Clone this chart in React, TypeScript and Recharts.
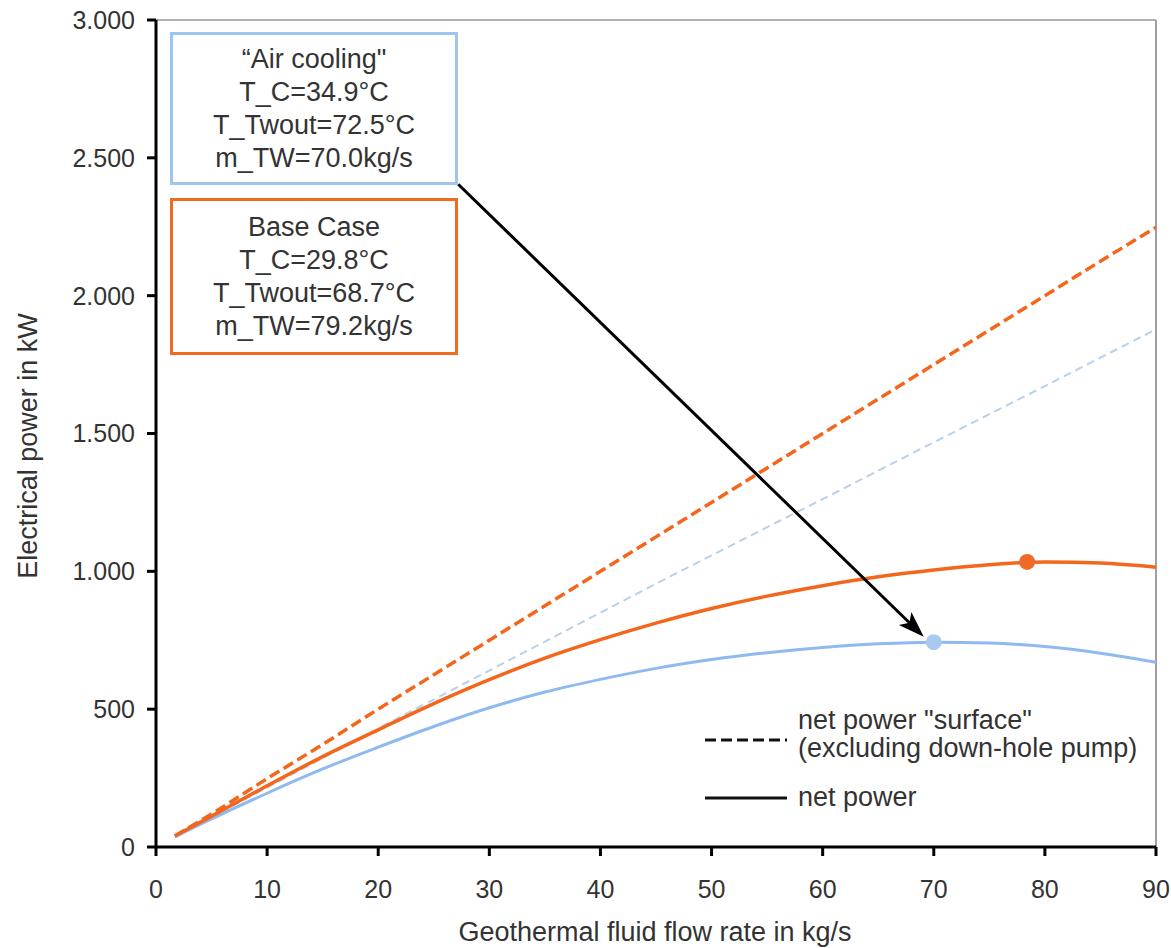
import {
  ComposedChart,
  Line,
  Scatter,
  XAxis,
  YAxis,
  ReferenceLine,
} from "recharts";

const FONT = "'Liberation Sans', Arial, Helvetica, sans-serif";
const ORANGE = "#f3661c";
const BLUE = "#8fbaf0";
const BLUE_FAINT = "#b9d0ea";
const TEXT = "#333333";

// flow rate in kg/s
const flow = [1.7, 5, 10, 15, 20, 25, 30, 35, 40, 45, 50, 55, 60, 65, 70, 75, 80, 85, 90];
// net power "surface" (excluding down-hole pump), kW
const baseSurface = [40, 120, 248, 372, 500, 625, 750, 875, 1000, 1125, 1250, 1375, 1500, 1625, 1750, 1875, 2000, 2125, 2248];
const airSurface = [38, 108, 215, 322, 430, 535, 640, 745, 850, 955, 1058, 1160, 1262, 1365, 1468, 1570, 1672, 1775, 1878];
// net power, kW
const baseNet = [40, 112, 222, 328, 425, 520, 607, 685, 752, 812, 865, 910, 948, 980, 1005, 1024, 1034, 1030, 1015];
const airNet = [37, 102, 195, 283, 362, 437, 505, 562, 608, 648, 680, 705, 724, 737, 743, 740, 727, 703, 670];

// optimum points
const baseOptimum = [{ x: 78.4, y: 1034 }];
const airOptimum = [{ x: 70.0, y: 743 }];

const xTicks = [0, 10, 20, 30, 40, 50, 60, 70, 80, 90];
const yTicks = [0, 500, 1000, 1500, 2000, 2500, 3000];

const airBox = ["\u201CAir cooling\"", "T_C=34.9°C", "T_Twout=72.5°C", "m_TW=70.0kg/s"];
const baseBox = ["Base Case", "T_C=29.8°C", "T_Twout=68.7°C", "m_TW=79.2kg/s"];

// arrow from the air cooling box to its optimum
const arrowSegment = [
  { x: 27.2, y: 2404 },
  { x: 69.1, y: 763 },
];

const toPoints = (ys: number[]) => flow.map((x, i) => ({ x, y: ys[i] }));

function formatKw(v: number) {
  if (v < 1000) return String(v);
  return `${Math.floor(v / 1000)}.${String(v % 1000).padStart(3, "0")}`;
}

function Arrow(props: any) {
  const { x1, y1, x2, y2 } = props;
  const dx = x2 - x1;
  const dy = y2 - y1;
  const len = Math.sqrt(dx * dx + dy * dy);
  const ux = dx / len;
  const uy = dy / len;
  const head = 26;
  const half = 9;
  const bx = x2 - ux * head;
  const by = y2 - uy * head;
  const pts = `${x2},${y2} ${bx - uy * half},${by + ux * half} ${bx + ux * 6},${by + uy * 6} ${bx + uy * half},${by - ux * half}`;
  return (
    <g>
      <line x1={x1} y1={y1} x2={bx + ux * 6} y2={by + uy * 6} stroke="#000" strokeWidth={3} />
      <polygon points={pts} fill="#000" />
    </g>
  );
}

function Dot(color: string) {
  return (p: any) => <circle cx={p.cx} cy={p.cy} r={8} fill={color} />;
}

function InfoBox({ lines, color, top, height }: { lines: string[]; color: string; top: number; height: number }) {
  return (
    <div
      style={{
        position: "absolute",
        left: 170,
        top,
        width: 288,
        height,
        boxSizing: "border-box",
        border: `3px solid ${color}`,
        background: "#fff",
        display: "flex",
        flexDirection: "column",
        justifyContent: "center",
        alignItems: "center",
        fontFamily: FONT,
        fontSize: 27,
        lineHeight: "33px",
        color: TEXT,
      }}
    >
      {lines.map((l) => (
        <div key={l}>{l}</div>
      ))}
    </div>
  );
}

export default function App() {
  return (
    <div style={{ position: "absolute", left: 0, top: 0, width: 1171, height: 948, background: "#fff" }}>
      <ComposedChart width={1171} height={948} margin={{ top: 20, right: 15, bottom: 0, left: 0 }}>
        <XAxis
          type="number"
          dataKey="x"
          domain={[0, 90]}
          ticks={xTicks}
          allowDataOverflow
          height={101}
          axisLine={{ stroke: "#000", strokeWidth: 3 }}
          tickLine={{ stroke: "#000", strokeWidth: 3 }}
          tickSize={9}
          tickMargin={24}
          tick={{ fontSize: 25, fill: TEXT, fontFamily: FONT }}
          label={(p: any) => (
            <text x={655} y={941} textAnchor="middle" fontSize={27} fill={TEXT} fontFamily={FONT}>
              Geothermal fluid flow rate in kg/s
            </text>
          )}
        />
        <YAxis
          type="number"
          dataKey="y"
          domain={[0, 3000]}
          ticks={yTicks}
          width={156}
          tickFormatter={formatKw}
          axisLine={{ stroke: "#000", strokeWidth: 3 }}
          tickLine={{ stroke: "#000", strokeWidth: 3 }}
          tickSize={9}
          tickMargin={12}
          tick={{ fontSize: 25, fill: TEXT, fontFamily: FONT }}
          label={(p: any) => (
            <text
              x={37}
              y={446}
              textAnchor="middle"
              fontSize={27}
              fill={TEXT}
              fontFamily={FONT}
              transform="rotate(-90, 37, 446)"
            >
              Electrical power in kW
            </text>
          )}
        />
        <ReferenceLine y={3000} stroke="#b0b0b0" strokeWidth={2} />
        <ReferenceLine x={90} stroke="#a0a0a0" strokeWidth={2} />

        <Line
          data={toPoints(airSurface)}
          dataKey="y"
          type="monotone"
          stroke={BLUE_FAINT}
          strokeWidth={2}
          strokeDasharray="8 5"
          dot={false}
          activeDot={false}
          isAnimationActive={false}
        />
        <Line
          data={toPoints(baseSurface)}
          dataKey="y"
          type="monotone"
          stroke={ORANGE}
          strokeWidth={3.5}
          strokeDasharray="11 5"
          dot={false}
          activeDot={false}
          isAnimationActive={false}
        />
        <Line
          data={toPoints(airNet)}
          dataKey="y"
          type="monotone"
          stroke={BLUE}
          strokeWidth={3}
          dot={false}
          activeDot={false}
          isAnimationActive={false}
        />
        <Line
          data={toPoints(baseNet)}
          dataKey="y"
          type="monotone"
          stroke={ORANGE}
          strokeWidth={3.5}
          dot={false}
          activeDot={false}
          isAnimationActive={false}
        />
        <Scatter data={airOptimum} dataKey="y" shape={Dot("#a9c9f0")} isAnimationActive={false} />
        <Scatter data={baseOptimum} dataKey="y" shape={Dot("#ef6a26")} isAnimationActive={false} />
        <ReferenceLine segment={arrowSegment} shape={Arrow} ifOverflow="visible" />
      </ComposedChart>

      <InfoBox lines={airBox} color="#9ec4f2" top={32} height={153} />
      <InfoBox lines={baseBox} color="#f26a21" top={198} height={157} />

      <div style={{ position: "absolute", left: 700, top: 700, width: 470, height: 120 }}>
        <svg width={470} height={120} style={{ position: "absolute", left: 0, top: 0 }}>
          <line x1={5} y1={40} x2={87} y2={40} stroke="#111" strokeWidth={3} strokeDasharray="11 5" />
          <line x1={5} y1={98} x2={87} y2={98} stroke="#111" strokeWidth={3} />
          <text x={98} y={29} fontSize={27} fill={TEXT} fontFamily={FONT}>net power "surface"</text>
          <text x={98} y={57} fontSize={27} fill={TEXT} fontFamily={FONT}>(excluding down-hole pump)</text>
          <text x={98} y={106} fontSize={27} fill={TEXT} fontFamily={FONT}>net power</text>
        </svg>
      </div>
    </div>
  );
}
